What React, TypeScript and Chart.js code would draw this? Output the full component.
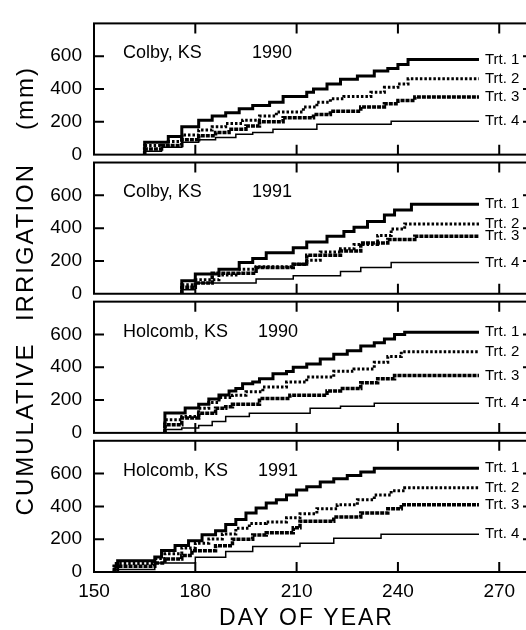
import React, { useEffect, useRef } from "react";
import { Chart, registerables } from "chart.js";

Chart.register(...registerables);

// ---------- data ----------
const xTickValues = [150, 180, 210, 240, 270];
const yTickValues = [0, 200, 400, 600];
const treatmentNames = ["Trt. 1", "Trt. 2", "Trt. 3", "Trt. 4"];
const panelSites = ["Colby, KS", "Colby, KS", "Holcomb, KS", "Holcomb, KS"];
const panelYears = ["1990", "1991", "1990", "1991"];
const xTitle = "DAY OF YEAR";
const yTitleWords = ["CUMULATIVE", "IRRIGATION", "(mm)"];

// [day of year, cumulative irrigation mm]
const colby1990Trt1 = [[165,0],[165,45],[172,75],[176,110],[181,170],[185,210],[189,235],[193,255],[197,280],[202,300],[206,320],[213,355],[215,380],[219,400],[223,430],[228,460],[233,480],[237,510],[240,525],[243,550],[247,580],[264,580]];
const colby1990Trt2 = [[165,0],[165,30],[172,55],[176,80],[181,120],[185,150],[189,170],[194,190],[199,210],[204,235],[212,260],[216,290],[220,320],[224,340],[232,355],[236,380],[240,410],[243,430],[248,462],[264,462]];
const colby1990Trt3 = [[165,0],[165,20],[170,35],[176,55],[181,90],[186,115],[190,135],[195,155],[199,175],[206,200],[215,225],[220,245],[229,265],[236,290],[240,310],[245,330],[248,352],[264,352]];
const colby1990Trt4 = [[165,0],[165,10],[170,20],[176,45],[181,75],[186,90],[192,105],[197,125],[203,135],[216,155],[238,185],[245,203],[264,203]];

const colby1991Trt1 = [[176,0],[176,40],[180,80],[187,120],[193,150],[197,190],[201,215],[209,250],[213,280],[219,315],[224,350],[227,380],[231,405],[236,440],[239,480],[244,510],[248,545],[264,545]];
const colby1991Trt2 = [[176,0],[176,25],[180,55],[187,85],[193,115],[198,150],[209,165],[213,180],[217,205],[223,255],[227,275],[234,300],[238,355],[242,395],[247,425],[264,425]];
const colby1991Trt3 = [[176,0],[176,15],[180,40],[185,65],[198,125],[209,160],[213,180],[223,235],[229,260],[237,310],[245,330],[250,350],[264,350]];
const colby1991Trt4 = [[176,0],[176,10],[180,25],[198,65],[209,90],[223,110],[229,135],[238,160],[246,190],[264,190]];

const holcomb1990Trt1 = [[171,0],[171,72],[177,121],[181,151],[184,175],[187,207],[190,231],[192,255],[194,271],[197,300],[199,310],[203,330],[207,360],[209,374],[213,400],[217,420],[221,450],[225,480],[229,500],[233,529],[236,549],[239,573],[242,599],[244,613],[264,613]];
const holcomb1990Trt2 = [[171,0],[171,45],[176,80],[181,100],[184,150],[187,185],[191,215],[195,230],[200,250],[207,280],[213,310],[221,340],[227,375],[233,390],[237,430],[241,465],[245,495],[264,495]];
const holcomb1990Trt3 = [[171,0],[171,30],[176,50],[181,90],[186,120],[189,150],[191,160],[199,175],[208,210],[219,230],[223,255],[229,270],[234,305],[239,330],[243,350],[264,350]];
const holcomb1990Trt4 = [[171,0],[171,10],[176,20],[181,30],[185,45],[189,70],[196,100],[214,120],[223,150],[233,162],[241,180],[264,180]];

const holcomb1991Trt1 = [[157,0],[157,40],[168,68],[170,92],[174,131],[178,161],[182,191],[186,227],[189,251],[192,290],[195,320],[198,360],[201,390],[204,420],[207,440],[210,470],[213,500],[217,519],[221,549],[225,569],[229,589],[233,609],[237,633],[264,633]];
const holcomb1991Trt2 = [[156,0],[156,20],[168,52],[171,82],[176,111],[180,147],[184,175],[188,201],[192,231],[196,267],[201,295],[207,305],[211,330],[216,355],[222,385],[228,410],[233,440],[238,470],[242,495],[244,513],[264,513]];
const holcomb1991Trt3 = [[156,0],[156,12],[168,35],[171,55],[176,80],[179,100],[186,130],[191,160],[197,200],[201,225],[209,240],[211,270],[221,310],[229,335],[237,360],[241,385],[248,410],[264,410]];
const holcomb1991Trt4 = [[156,0],[156,5],[168,15],[180,55],[189,90],[197,125],[211,155],[221,175],[235,205],[245,230],[264,230]];

const panels = [
  [colby1990Trt1, colby1990Trt2, colby1990Trt3, colby1990Trt4],
  [colby1991Trt1, colby1991Trt2, colby1991Trt3, colby1991Trt4],
  [holcomb1990Trt1, holcomb1990Trt2, holcomb1990Trt3, holcomb1990Trt4],
  [holcomb1991Trt1, holcomb1991Trt2, holcomb1991Trt3, holcomb1991Trt4],
];

// ---------- styling ----------
const FONT = "Arial, 'Liberation Sans', Helvetica, sans-serif";
const lineStyles = [
  { borderWidth: 3, borderDash: [] as number[] },
  { borderWidth: 3, borderDash: [2.5, 2] },
  { borderWidth: 3.5, borderDash: [4, 1] },
  { borderWidth: 1.5, borderDash: [] as number[] },
];
const YEAR_OFFSET = [158, 158, 164, 164];
const CANVAS_W = 545;
const CANVAS_H = 630;

const decorPlugin = {
  id: "decor",
  afterDraw(chart: any) {
    const ctx = chart.ctx as CanvasRenderingContext2D;
    const area = chart.chartArea;
    const xs = chart.scales.x;
    ctx.save();
    ctx.strokeStyle = "#000";
    ctx.fillStyle = "#000";
    for (let p = 0; p < panels.length; p++) {
      const ys = chart.scales["y" + p];
      const top = ys.top;
      const bottom = ys.bottom;
      const left = area.left;
      const right = area.right;
      ctx.lineWidth = 2;
      ctx.strokeRect(left, top, right - left, bottom - top);
      ctx.beginPath();
      for (const v of xTickValues) {
        if (v === xs.min) continue;
        const px = xs.getPixelForValue(v);
        ctx.moveTo(px, top);
        ctx.lineTo(px, top + 10);
        ctx.moveTo(px, bottom);
        ctx.lineTo(px, bottom - 10);
      }
      for (const v of yTickValues) {
        if (v === 0) continue;
        const py = ys.getPixelForValue(v);
        ctx.moveTo(left, py);
        ctx.lineTo(left + 10, py);
        ctx.moveTo(right, py);
        ctx.lineTo(right - 10, py);
      }
      ctx.stroke();

      // panel titles
      ctx.font = "18px " + FONT;
      ctx.textAlign = "left";
      ctx.textBaseline = "middle";
      ctx.fillText(panelSites[p], left + 29, top + 30);
      ctx.fillText(panelYears[p], left + YEAR_OFFSET[p], top + 30);

      // end-of-line treatment labels
      ctx.font = "15px " + FONT;
      panels[p].forEach((series, s) => {
        const last = series[series.length - 1];
        const px = xs.getPixelForValue(last[0]);
        const py = ys.getPixelForValue(last[1]);
        ctx.fillText(treatmentNames[s], px + 6, py);
      });
    }

    // x title
    ctx.font = "23px " + FONT;
    (ctx as any).letterSpacing = "2px";
    ctx.textAlign = "center";
    ctx.textBaseline = "middle";
    ctx.fillText(xTitle, (area.left + area.right) / 2 - 7, 619);

    // y title (rotated)
    ctx.font = "24px " + FONT;
    ctx.translate(26, 0);
    ctx.rotate(-Math.PI / 2);
    const centers = [429, 242, 98];
    yTitleWords.forEach((w, i) => {
      ctx.fillText(w, -centers[i], 0);
    });
    ctx.restore();
  },
};

export default function App() {
  const canvasRef = useRef<HTMLCanvasElement | null>(null);

  useEffect(() => {
    const canvas = canvasRef.current;
    if (!canvas) return;

    const datasets: any[] = [];
    panels.forEach((panel, p) => {
      panel.forEach((series, s) => {
        datasets.push({
          label: panelSites[p] + " " + panelYears[p] + " " + treatmentNames[s],
          data: series.map(([x, y]) => ({ x, y })),
          xAxisID: "x",
          yAxisID: "y" + p,
          stepped: "after",
          borderColor: "#000",
          backgroundColor: "#000",
          borderWidth: lineStyles[s].borderWidth,
          borderDash: lineStyles[s].borderDash,
          borderCapStyle: "butt",
          pointRadius: 0,
          fill: false,
        });
      });
    });

    const panelScale = (p: number) => ({
      type: "linear",
      position: "left",
      stack: "panels",
      stackWeight: 133,
      weight: 7 - p * 2,
      min: 0,
      max: 800,
      afterBuildTicks: (sc: any) => {
        sc.ticks = yTickValues.map((v) => ({ value: v }));
      },
      afterFit: (sc: any) => {
        sc.width = 94;
      },
      grid: { display: false, drawTicks: false },
      border: { display: false },
      ticks: {
        color: "#000",
        padding: 12,
        autoSkip: false,
        font: { family: FONT, size: 19 },
      },
    });
    const gapScale = (g: number) => ({
      type: "linear",
      position: "left",
      stack: "panels",
      stackWeight: 8,
      weight: 6 - g * 2,
      min: 0,
      max: 1,
      display: false,
    });

    const chart = new Chart(canvas, {
      type: "line",
      data: { datasets },
      options: {
        animation: false,
        responsive: false,
        events: [],
        layout: { padding: { top: 16, right: 12, bottom: 0, left: 0 } },
        plugins: { legend: { display: false }, tooltip: { enabled: false }, title: { display: false } },
        scales: {
          x: {
            type: "linear",
            position: "bottom",
            min: 150,
            max: 280,
            afterBuildTicks: (sc: any) => {
              sc.ticks = xTickValues.map((v) => ({ value: v }));
            },
            afterFit: (sc: any) => {
              sc.height = 58;
            },
            grid: { display: false, drawTicks: false },
            border: { display: false },
            ticks: {
              color: "#000",
              padding: 8,
              maxRotation: 0,
              autoSkip: false,
              font: { family: FONT, size: 19 },
            },
          },
          y0: panelScale(0),
          g0: gapScale(0),
          y1: panelScale(1),
          g1: gapScale(1),
          y2: panelScale(2),
          g2: gapScale(2),
          y3: panelScale(3),
        } as any,
      },
      plugins: [decorPlugin],
    } as any);

    return () => chart.destroy();
  }, []);

  return (
    <div
      style={{
        position: "fixed",
        left: 0,
        top: 0,
        width: 526,
        height: 630,
        overflow: "hidden",
        background: "#fff",
      }}
    >
      <canvas
        ref={canvasRef}
        width={CANVAS_W}
        height={CANVAS_H}
        style={{ display: "block", width: CANVAS_W, height: CANVAS_H }}
      />
    </div>
  );
}
